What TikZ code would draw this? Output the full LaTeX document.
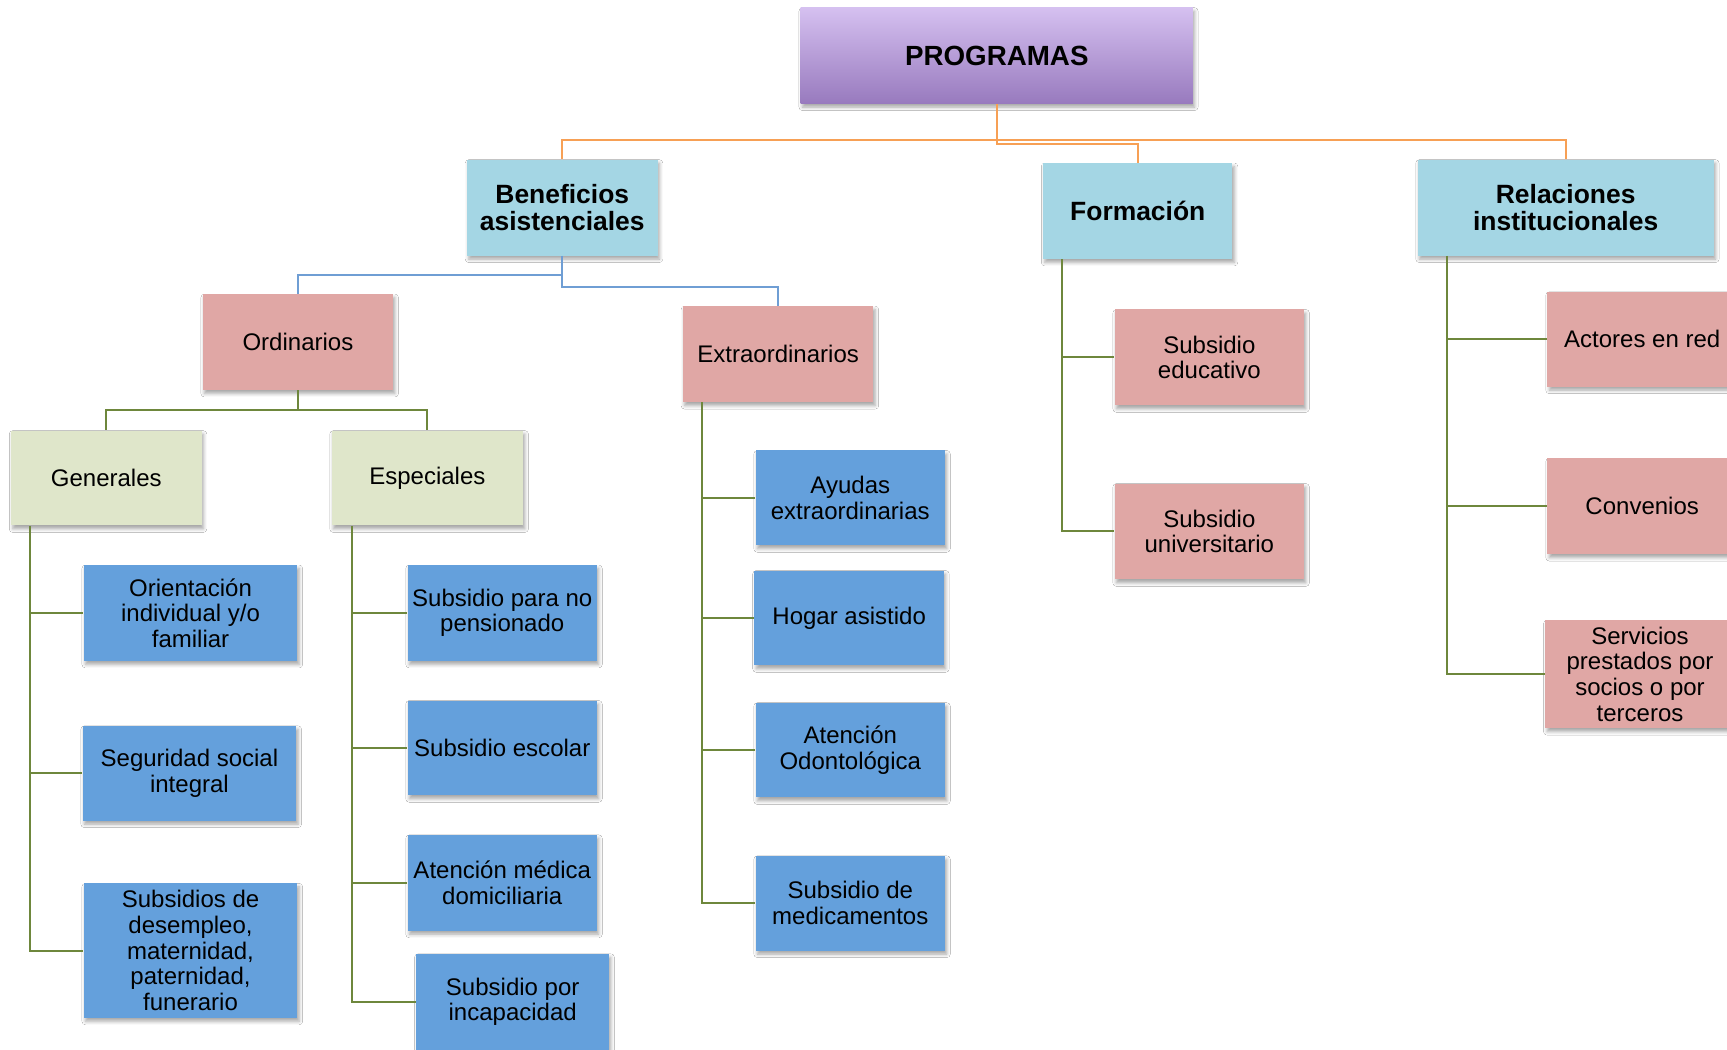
\documentclass[tikz,border=0pt]{standalone}
\usepackage{fontspec}
\setmainfont{Liberation Sans}
\usetikzlibrary{shadows.blur}
\definecolor{cLightBlue}{RGB}{164,214,228}
\definecolor{cPink}{RGB}{224,167,165}
\definecolor{cLightGreen}{RGB}{223,230,202}
\definecolor{cBlue}{RGB}{100,160,220}
\definecolor{cPurpTop}{RGB}{213,192,240}
\definecolor{cPurpBot}{RGB}{152,122,190}
\definecolor{cOrange}{RGB}{247,160,85}
\definecolor{cBlueLine}{RGB}{111,158,212}
\definecolor{cGreenLine}{RGB}{110,135,60}
\tikzset{
  base/.style={rectangle, inner sep=0pt, align=center, text=black,
    minimum width=86.5pt, minimum height=43.5pt,
    blur shadow={shadow xshift=0.8pt, shadow yshift=-1.6pt, shadow blur radius=1.6pt, shadow opacity=35},
    font={\fontsize{10.9}{11.65}\selectfont}},
  sz/.style 2 args={minimum width=#1*0.5pt, minimum height=#2*0.5pt},
  topbox/.style={base, top color=cPurpTop, bottom color=cPurpBot,
    font={\fontsize{12.6}{13}\selectfont\bfseries}},
  lvlone/.style={base, fill=cLightBlue, font={\fontsize{12}{12}\selectfont\bfseries}},
  pinkbox/.style={base, fill=cPink},
  greenbox/.style={base, fill=cLightGreen},
  bluebox/.style={base, fill=cBlue},
  orangeline/.style={draw=cOrange, line width=0.8pt},
  blueline/.style={draw=cBlueLine, line width=0.8pt},
  greenline/.style={draw=cGreenLine, line width=0.9pt},
}
\begin{document}
\begin{tikzpicture}[x=0.5pt, y=-0.5pt]
\fill[white] (0,0) rectangle (1568,953);
\useasboundingbox (0,0) rectangle (1568,953);

% nodes
\node[topbox, sz={356}{87}] (prog) at (905,50.5) {PROGRAMAS};
\node[lvlone, sz={173}{87}] (bene) at (510.5,188.5) {Beneficios\\asistenciales};
\node[lvlone, sz={172}{87}] (form) at (1033,191.5) {Formación};
\node[lvlone, sz={269}{87}] (rel) at (1421.5,188.5) {Relaciones\\institucionales};

\node[pinkbox, sz={173}{87}] (ord) at (270.5,310.5) {Ordinarios};
\node[pinkbox, sz={173}{87}] (ext) at (706.5,321.5) {Extraordinarios};

\node[greenbox, sz={173}{86}] (gen) at (96.5,434) {Generales};
\node[greenbox, sz={174}{86}] (esp) at (388,434) {Especiales};

\node[bluebox, sz={194}{87}] (ori) at (173,556.5) {Orientación\\individual y/o\\familiar};
\node[bluebox, sz={194}{86}] (seg) at (172,702) {Seguridad social\\integral};
\node[bluebox, sz={194}{122}] (subs) at (173,863) {Subsidios de\\desempleo,\\maternidad,\\paternidad,\\funerario};

\node[bluebox, sz={172}{87}] (spn) at (456,556.5) {Subsidio para no\\pensionado};
\node[bluebox, sz={172}{86}] (sesc) at (456,679) {Subsidio escolar};
\node[bluebox, sz={172}{87}] (amd) at (456,801.5) {Atención médica\\domiciliaria};
\node[bluebox, sz={175}{87}] (sinc) at (465.5,909.5) {Subsidio por\\incapacidad};

\node[bluebox, sz={172}{86}] (ayu) at (772,452) {Ayudas\\extraordinarias};
\node[bluebox, sz={172}{86}] (hog) at (771,561) {Hogar asistido};
\node[bluebox, sz={172}{86}] (aod) at (772,681) {Atención\\Odontológica};
\node[bluebox, sz={172}{86}] (smed) at (772,820) {Subsidio de\\medicamentos};

\node[pinkbox, sz={172}{87}] (sedu) at (1098,324.5) {Subsidio\\educativo};
\node[pinkbox, sz={172}{87}] (suni) at (1098,482.5) {Subsidio\\universitario};

\node[pinkbox, sz={172}{86}] (act) at (1491,308) {Actores en red};
\node[pinkbox, sz={172}{87}] (conv) at (1491,459.5) {Convenios};
\node[pinkbox, sz={172}{98}] (serv) at (1489,612) {Servicios\\prestados por\\socios o por\\terceros};

% orange connectors
\draw[orangeline] (prog.south) -- ++(0,33) -| (bene.north);
\draw[orangeline] (prog.south) -- ++(0,33) -| (rel.north);
\draw[orangeline] (prog.south) -- ++(0,36) -| (form.north);

% blue connectors
\draw[blueline] (bene.south) -- ++(0,17) -| (ord.north);
\draw[blueline] (bene.south) -- ++(0,28) -| (ext.north);

% green connectors
\draw[greenline] (ord.south) -- ++(0,18) -| (gen.north);
\draw[greenline] (ord.south) -- ++(0,18) -| (esp.north);

\draw[greenline] ([xshift=9pt]gen.south west) |- (subs.west);
\draw[greenline] ([xshift=9pt]gen.south west |- ori.west) -- (ori.west);
\draw[greenline] ([xshift=9pt]gen.south west |- seg.west) -- (seg.west);

\draw[greenline] ([xshift=9.5pt]esp.south west) |- (sinc.west);
\draw[greenline] ([xshift=9.5pt]esp.south west |- spn.west) -- (spn.west);
\draw[greenline] ([xshift=9.5pt]esp.south west |- sesc.west) -- (sesc.west);
\draw[greenline] ([xshift=9.5pt]esp.south west |- amd.west) -- (amd.west);

\draw[greenline] ([xshift=9pt]ext.south west) |- (smed.west);
\draw[greenline] ([xshift=9pt]ext.south west |- ayu.west) -- (ayu.west);
\draw[greenline] ([xshift=9pt]ext.south west |- hog.west) -- (hog.west);
\draw[greenline] ([xshift=9pt]ext.south west |- aod.west) -- (aod.west);

\draw[greenline] ([xshift=9pt]form.south west) |- (suni.west);
\draw[greenline] ([xshift=9pt]form.south west |- sedu.west) -- (sedu.west);

\draw[greenline] ([xshift=13.5pt]rel.south west) |- (serv.west);
\draw[greenline] ([xshift=13.5pt]rel.south west |- act.west) -- (act.west);
\draw[greenline] ([xshift=13.5pt]rel.south west |- conv.west) -- (conv.west);
\end{tikzpicture}
\end{document}
